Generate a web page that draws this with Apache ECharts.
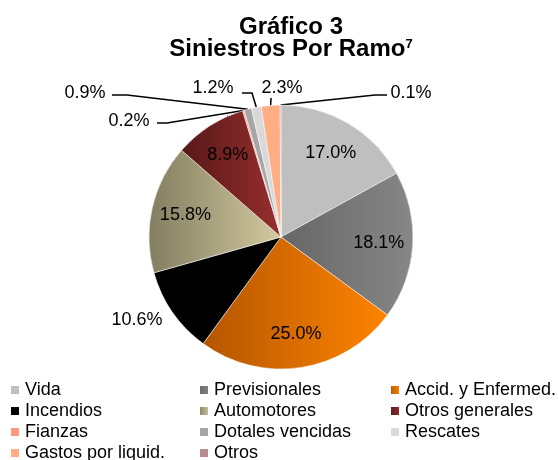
<!DOCTYPE html>
<html>
<head>
<meta charset="utf-8">
<script src="https://cdn.jsdelivr.net/npm/echarts@6/dist/echarts.min.js"></script>
<style>
  html, body { margin: 0; padding: 0; background: #fff; }
  #chart { width: 558px; height: 460px; }
</style>
</head>
<body>
<div id="chart"></div>
<script>
// datos del gráfico
const ramos = ['Vida', 'Previsionales', 'Accid. y Enfermed.', 'Incendios', 'Automotores',
  'Otros generales', 'Fianzas', 'Dotales vencidas', 'Rescates', 'Gastos por liquid.', 'Otros'];
const porcentajes = [17.0, 18.1, 25.0, 10.6, 15.8, 8.9, 0.2, 0.9, 1.2, 2.3, 0.1];

// columnas de la leyenda
const leyendaCol1 = ['Vida', 'Incendios', 'Fianzas', 'Gastos por liquid.'];
const leyendaCol2 = ['Previsionales', 'Automotores', 'Dotales vencidas', 'Otros'];
const leyendaCol3 = ['Accid. y Enfermed.', 'Otros generales', 'Rescates'];

const FONT = "'Liberation Sans', Arial, sans-serif";
const CX = 281, CY = 237, R = 132;

const grad = (c0, c1) => new echarts.graphic.LinearGradient(0, 0, 1, 0, [
  { offset: 0, color: c0 }, { offset: 1, color: c1 }
]);
const colores = {
  'Vida': '#bfbfbf',
  'Previsionales': grad('#666666', '#878787'),
  'Accid. y Enfermed.': grad('#b45600', '#ff8400'),
  'Incendios': '#000000',
  'Automotores': grad('#837d61', '#d2ca9f'),
  'Otros generales': grad('#581818', '#982e2e'),
  'Fianzas': '#ff9a80',
  'Dotales vencidas': '#a6a6a6',
  'Rescates': '#d9d9d9',
  'Gastos por liquid.': '#ffad85',
  'Otros': '#b88c8c'
};

// dónde va cada etiqueta: dentro, fuera o con línea guía
const etiquetas = {
  'Incendios': { tipo: 'fuera', x: 137, y: 320 },
  'Fianzas': { tipo: 'guia', x: 129, y: 121, codo: [167, 123], fin: [157, 123] },
  'Dotales vencidas': { tipo: 'guia', x: 85, y: 93, codo: [127, 95], fin: [112, 95] },
  'Rescates': { tipo: 'guia', x: 213, y: 88, codo: [252, 93], fin: [242, 93] },
  'Gastos por liquid.': { tipo: 'guia', x: 282, y: 88, codo: [271, 99], fin: [271, 98] },
  'Otros': { tipo: 'guia', x: 411, y: 93, codo: [375, 95], fin: [387, 95] }
};

const total = porcentajes.reduce((a, b) => a + b, 0);
function anguloMedio(i) {
  let s = 0;
  for (let k = 0; k < i; k++) s += porcentajes[k];
  return (s + porcentajes[i] / 2) / total * 2 * Math.PI;
}
const polar = (a, r) => [CX + r * Math.sin(a), CY - r * Math.cos(a)];

const datos = ramos.map((n, i) => {
  const e = etiquetas[n];
  const guia = e && e.tipo === 'guia';
  return {
    name: n,
    value: porcentajes[i],
    itemStyle: { color: colores[n] },
    label: { position: guia ? 'outside' : 'inside' },
    labelLine: { show: guia }
  };
});

const leyenda = (cols, left) => ({
  data: cols,
  orient: 'vertical',
  left: left,
  top: 380,
  height: 100,
  padding: 0,
  itemGap: 1,
  itemWidth: 10,
  itemHeight: 10,
  icon: 'rect',
  selectedMode: false,
  textStyle: { fontFamily: FONT, fontSize: 18, color: '#000', lineHeight: 20 }
});

const chart = echarts.init(document.getElementById('chart'));
chart.setOption({
  animation: false,
  backgroundColor: '#fff',
  title: {
    text: 'Gráfico 3\nSiniestros Por Ramo{sup|7}',
    left: 286,
    top: 11,
    textAlign: 'center',
    textStyle: {
      fontFamily: FONT, fontSize: 24, fontWeight: 'bold', color: '#000', lineHeight: 22,
      rich: { sup: { fontFamily: FONT, fontSize: 13, fontWeight: 'bold', color: '#000', lineHeight: 13, verticalAlign: 'top' } }
    }
  },
  legend: [leyenda(leyendaCol1, 9), leyenda(leyendaCol2, 198), leyenda(leyendaCol3, 389)],
  series: [{
    type: 'pie',
    center: [CX, CY],
    radius: R,
    startAngle: 90,
    clockwise: true,
    avoidLabelOverlap: false,
    emphasis: { disabled: true },
    itemStyle: { borderColor: '#fff', borderWidth: 0.5 },
    label: {
      show: true,
      fontFamily: FONT,
      fontSize: 18,
      color: '#000',
      formatter: p => p.value.toFixed(1) + '%'
    },
    labelLine: { lineStyle: { color: '#000', width: 1.5 } },
    labelLayout: p => {
      const i = p.dataIndex;
      const a = anguloMedio(i);
      const e = etiquetas[ramos[i]];
      if (!e) {
        const [x, y] = polar(a, 98);
        return { x, y, align: 'center', verticalAlign: 'middle' };
      }
      if (e.tipo === 'fuera') {
        return { x: e.x, y: e.y, align: 'center', verticalAlign: 'middle' };
      }
      return {
        x: e.x, y: e.y, align: 'center', verticalAlign: 'middle',
        labelLinePoints: [polar(a, R), e.codo, e.fin]
      };
    },
    data: datos
  }]
});
</script>
</body>
</html>
